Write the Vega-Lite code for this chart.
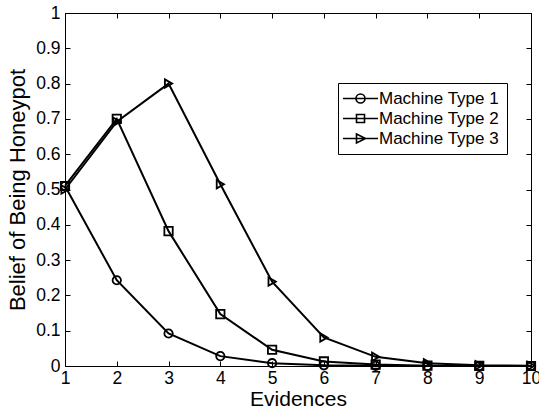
{
  "$schema": "https://vega.github.io/schema/vega-lite/v6.json",
  "width": 466,
  "height": 353,
  "autosize": {"type": "none"},
  "padding": {"left": 65, "top": 13, "right": 8, "bottom": 46},
  "background": "white",
  "config": {
    "font": "Liberation Sans",
    "view": {"stroke": "black", "strokeWidth": 1},
    "axis": {
      "grid": false,
      "domainColor": "black",
      "tickColor": "black",
      "labelColor": "black",
      "titleColor": "black",
      "labelFont": "Liberation Sans",
      "titleFont": "Liberation Sans",
      "labelFontSize": 17.5,
      "titleFontSize": 21,
      "titleFontWeight": "normal",
      "tickSize": -5,
      "labelFlush": false
    },
    "legend": {
      "orient": "none",
      "legendX": 273,
      "legendY": 70,
      "title": null,
      "strokeColor": "black",
      "fillColor": "white",
      "padding": 7,
      "labelFont": "Liberation Sans",
      "labelFontSize": 17,
      "labelColor": "black",
      "symbolSize": 100,
      "symbolOffset": 7,
      "labelOffset": 10,
      "rowPadding": 2,
      "symbolStrokeWidth": 1.6,
      "symbolStrokeColor": "black",
      "symbolFillColor": "transparent"
    }
  },
  "data": {
    "values": [
      {"evidence": 1, "belief": 0.51, "series": "Machine Type 1"},
      {"evidence": 2, "belief": 0.243, "series": "Machine Type 1"},
      {"evidence": 3, "belief": 0.092, "series": "Machine Type 1"},
      {"evidence": 4, "belief": 0.028, "series": "Machine Type 1"},
      {"evidence": 5, "belief": 0.008, "series": "Machine Type 1"},
      {"evidence": 6, "belief": 0.002, "series": "Machine Type 1"},
      {"evidence": 7, "belief": 0.0005, "series": "Machine Type 1"},
      {"evidence": 8, "belief": 0.0001, "series": "Machine Type 1"},
      {"evidence": 9, "belief": 0, "series": "Machine Type 1"},
      {"evidence": 10, "belief": 0, "series": "Machine Type 1"},
      {"evidence": 1, "belief": 0.51, "series": "Machine Type 2"},
      {"evidence": 2, "belief": 0.70, "series": "Machine Type 2"},
      {"evidence": 3, "belief": 0.382, "series": "Machine Type 2"},
      {"evidence": 4, "belief": 0.147, "series": "Machine Type 2"},
      {"evidence": 5, "belief": 0.046, "series": "Machine Type 2"},
      {"evidence": 6, "belief": 0.013, "series": "Machine Type 2"},
      {"evidence": 7, "belief": 0.004, "series": "Machine Type 2"},
      {"evidence": 8, "belief": 0.001, "series": "Machine Type 2"},
      {"evidence": 9, "belief": 0.0002, "series": "Machine Type 2"},
      {"evidence": 10, "belief": 0, "series": "Machine Type 2"},
      {"evidence": 1, "belief": 0.50, "series": "Machine Type 3"},
      {"evidence": 2, "belief": 0.692, "series": "Machine Type 3"},
      {"evidence": 3, "belief": 0.80, "series": "Machine Type 3"},
      {"evidence": 4, "belief": 0.515, "series": "Machine Type 3"},
      {"evidence": 5, "belief": 0.239, "series": "Machine Type 3"},
      {"evidence": 6, "belief": 0.081, "series": "Machine Type 3"},
      {"evidence": 7, "belief": 0.026, "series": "Machine Type 3"},
      {"evidence": 8, "belief": 0.008, "series": "Machine Type 3"},
      {"evidence": 9, "belief": 0.002, "series": "Machine Type 3"},
      {"evidence": 10, "belief": 0.0005, "series": "Machine Type 3"}
    ]
  },
  "layer": [
    {
      "mark": {"type": "line", "color": "black", "strokeWidth": 2},
      "encoding": {
        "x": {
          "field": "evidence", "type": "quantitative",
          "scale": {"domain": [1, 10], "nice": false, "zero": false},
          "axis": {"orient": "bottom", "values": [1, 2, 3, 4, 5, 6, 7, 8, 9, 10], "format": "d", "title": "Evidences", "labelPadding": 8, "titlePadding": 2}
        },
        "y": {
          "field": "belief", "type": "quantitative",
          "scale": {"domain": [0, 1], "nice": false},
          "axis": {"orient": "left", "values": [0, 0.1, 0.2, 0.3, 0.4, 0.5, 0.6, 0.7, 0.8, 0.9, 1], "format": "~g", "title": "Belief of Being Honeypot", "titleFontSize": 22, "labelPadding": 10, "titlePadding": 6}
        },
        "detail": {"field": "series"}
      }
    },
    {
      "mark": {"type": "point", "filled": false, "color": "black", "strokeWidth": 1.8, "size": 70, "opacity": 1},
      "encoding": {
        "x": {"field": "evidence", "type": "quantitative", "axis": null},
        "y": {"field": "belief", "type": "quantitative", "axis": null},
        "shape": {
          "field": "series",
          "scale": {"domain": ["Machine Type 1", "Machine Type 2", "Machine Type 3"], "range": ["circle", "square", "triangle-right"]},
          "legend": null
        }
      }
    },
    {
      "mark": {"type": "point", "opacity": 0},
      "encoding": {
        "x": {"field": "evidence", "type": "quantitative", "axis": {"orient": "top", "values": [1, 2, 3, 4, 5, 6, 7, 8, 9, 10], "labels": false, "title": null}},
        "y": {"field": "belief", "type": "quantitative", "axis": {"orient": "right", "values": [0, 0.1, 0.2, 0.3, 0.4, 0.5, 0.6, 0.7, 0.8, 0.9, 1], "labels": false, "title": null}}
      }
    },
    {
      "transform": [{"filter": "false"}],
      "mark": {"type": "point", "filled": false, "color": "black", "strokeWidth": 1.6, "opacity": 1},
      "encoding": {
        "shape": {
          "field": "series",
          "scale": {
            "domain": ["Machine Type 1", "Machine Type 2", "Machine Type 3"],
            "range": [
              "M-3.5,0H3.5M0.9,0A0.9,0.9,0,1,1,-0.9,0A0.9,0.9,0,1,1,0.9,0Z",
              "M-3.5,0H3.5M-0.8,-0.8H0.8V0.8H-0.8Z",
              "M-3.5,0H3.5M-0.8,-0.9L1,0L-0.8,0.9Z"
            ]
          }
        }
      }
    }
  ],
  "resolve": {"axis": {"x": "independent", "y": "independent"}, "scale": {"shape": "independent"}}
}
